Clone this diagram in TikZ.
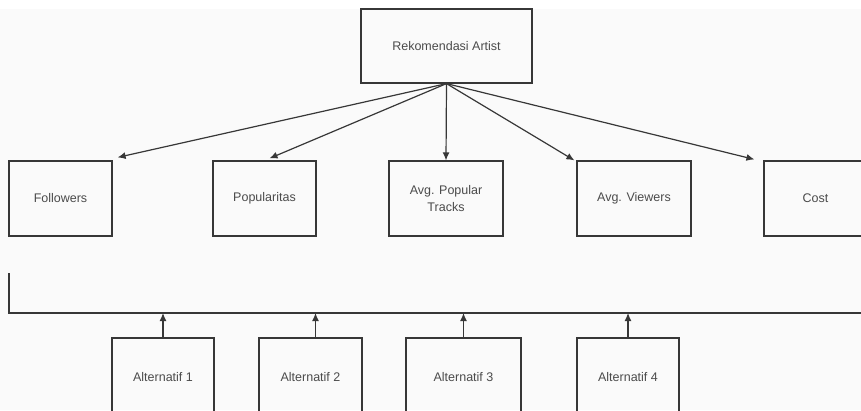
\documentclass[tikz,border=0pt]{standalone}
\usepackage{fontspec}
\setmainfont{Liberation Sans}
\usepackage{tikz}
\usetikzlibrary{arrows.meta}
\usetikzlibrary{positioning}
\usetikzlibrary{calc}
\definecolor{linegray}{RGB}{55,55,55}
\definecolor{textgray}{RGB}{75,75,75}
\definecolor{paper}{RGB}{250,250,250}
\tikzset{
	box/.style={draw=linegray, line width=1.2pt, rectangle, minimum height=75pt,
		text=textgray, align=center, inner sep=2pt,
		font=\fontsize{12.5}{17}\selectfont},
	link/.style={draw=linegray, line width=1.2pt, -{Latex[length=8pt,width=7pt]}},
	bus/.style={draw=linegray, line width=1.2pt},
}

\begin{document}
\begin{tikzpicture}[x=1pt, y=-1pt]
			\useasboundingbox (0,0) rectangle (861,410);
			\fill[white] (0,0) rectangle (861,9);
			\fill[paper] (0,9) rectangle (861,410);
			% goal
			\node[box, minimum width=171pt, minimum height=74pt] (goal) at (446.5,46) {Rekomendasi Artist};
			% criteria
			\node[box, minimum width=103pt] (followers) at (60.5,198.5) {Followers};
			\node[box, minimum width=103pt] (popularitas) at (264.5,198.5) {Popularitas};
			\node[box, minimum width=114pt] (tracks) at (446,198.5) {Avg. Popular\\Tracks};
			\node[box, minimum width=114pt] (viewers) at (634,198.5) {Avg. Viewers};
			\node[box, minimum width=103pt] (cost) at (815.5,198.5) {Cost};
			\draw[link] (goal.south) -- ([xshift=5pt,yshift=3pt]followers.north east);
			\draw[link] (goal.south) -- ([xshift=5pt,yshift=2pt]popularitas.north);
			\draw[link] (goal.south) -- (tracks.north);
			\draw[link] (goal.south) -- ([xshift=-2pt]viewers.north west);
			\draw[link] (goal.south) -- ([xshift=-9pt,yshift=1pt]cost.north west);
			% alternatives
			\coordinate (busstart) at (9,273);
			\coordinate (busend) at (870,313);
			\draw[bus] (busstart) |- (busend);
			\node[box, minimum width=102pt, minimum height=78pt] (alt1) at (163,377) {Alternatif 1};
			\node[box, minimum width=103pt, minimum height=78pt] (alt2) at (310.5,377) {Alternatif 2};
			\node[box, minimum width=115pt, minimum height=78pt] (alt3) at (463.5,377) {Alternatif 3};
			\node[box, minimum width=102pt, minimum height=78pt] (alt4) at (628,377) {Alternatif 4};
			\draw[link] (alt1.north) -- (alt1.north |- busend);
			\draw[link] ([xshift=5pt]alt2.north) -- ([xshift=5pt]alt2.north |- busend);
			\draw[link] (alt3.north) -- (alt3.north |- busend);
			\draw[link] (alt4.north) -- (alt4.north |- busend);
		\end{tikzpicture}
\end{document}
